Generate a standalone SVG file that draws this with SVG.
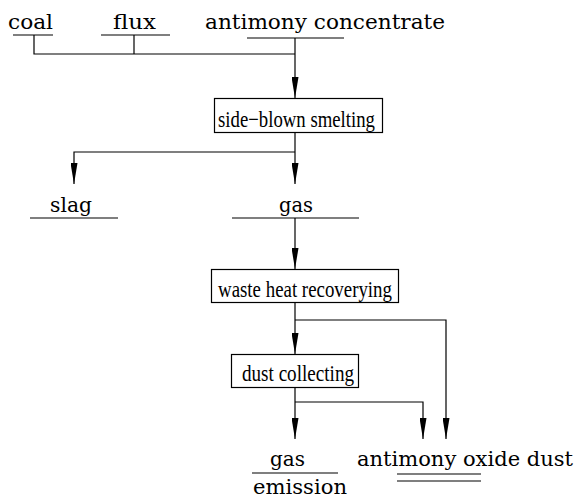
<svg xmlns="http://www.w3.org/2000/svg" width="578" height="498" viewBox="0 0 578 498">
  <style>
    .ln { stroke: #000; stroke-width: 1.2; fill: none; }
    .box { stroke: #000; stroke-width: 1.2; fill: #fff; }
    .lbl { font-family: "DejaVu Serif", "Liberation Serif", serif; font-size: 21px; fill: #000; }
    .btx { font-family: "Liberation Serif", "DejaVu Serif", serif; font-size: 23px; fill: #000; }
  </style>
  <defs>
    <marker id="arr" markerWidth="21" markerHeight="7" refX="21" refY="3.5" orient="auto" markerUnits="userSpaceOnUse" viewBox="0 0 21 7">
      <path d="M0,0 L21,3.5 L0,7 Z" fill="#000"/>
    </marker>
  </defs>

  <!-- raw material labels -->
  <g id="coal">
    <text class="lbl" x="8" y="29" textLength="45" lengthAdjust="spacingAndGlyphs">coal</text>
    <line class="ln" x1="13" y1="35" x2="53" y2="35"/>
  </g>
  <g id="flux">
    <text class="lbl" x="113" y="29" textLength="43" lengthAdjust="spacingAndGlyphs">flux</text>
    <line class="ln" x1="101" y1="35" x2="170" y2="35"/>
  </g>
  <g id="concentrate">
    <text class="lbl" x="205" y="29" textLength="240" lengthAdjust="spacingAndGlyphs">antimony concentrate</text>
    <line class="ln" x1="247" y1="38" x2="344" y2="38"/>
  </g>

  <!-- process boxes -->
  <g id="smelting">
    <rect class="box" x="214.5" y="98.5" width="168" height="34"/>
    <text class="btx" x="218" y="127" textLength="157" lengthAdjust="spacingAndGlyphs">side−blown smelting</text>
  </g>
  <g id="slag">
    <text class="lbl" x="50" y="212" textLength="42" lengthAdjust="spacingAndGlyphs">slag</text>
    <line class="ln" x1="30" y1="218" x2="118" y2="218"/>
  </g>
  <g id="gas1">
    <text class="lbl" x="279" y="212" textLength="34" lengthAdjust="spacingAndGlyphs">gas</text>
    <line class="ln" x1="232" y1="218" x2="359" y2="218"/>
  </g>
  <g id="wasteheat">
    <rect class="box" x="211.5" y="269.5" width="187" height="33"/>
    <text class="btx" x="218" y="297" textLength="174" lengthAdjust="spacingAndGlyphs">waste heat recoverying</text>
  </g>
  <g id="dust">
    <rect class="box" x="231.5" y="354.5" width="127" height="33"/>
    <text class="btx" x="242" y="381" textLength="112" lengthAdjust="spacingAndGlyphs">dust collecting</text>
  </g>
  <g id="emission">
    <text class="lbl" x="270" y="466" textLength="35" lengthAdjust="spacingAndGlyphs">gas</text>
    <line class="ln" x1="252" y1="473" x2="338" y2="473"/>
    <text class="lbl" x="253" y="494" textLength="94" lengthAdjust="spacingAndGlyphs">emission</text>
  </g>
  <g id="oxidedust">
    <text class="lbl" x="357" y="466" textLength="216" lengthAdjust="spacingAndGlyphs">antimony oxide dust</text>
    <line class="ln" x1="397" y1="474" x2="481" y2="474"/>
    <line class="ln" x1="397" y1="481" x2="481" y2="481"/>
  </g>

  <!-- connectors -->
  <g id="connectors">
    <polyline class="ln" points="34,35 34,54 295,54"/>
    <line class="ln" x1="134" y1="35" x2="134" y2="54"/>
    <line class="ln" x1="295" y1="38" x2="295" y2="98" marker-end="url(#arr)"/>
    <line class="ln" x1="295" y1="133" x2="295" y2="184" marker-end="url(#arr)"/>
    <polyline class="ln" points="295,152 74,152 74,184" marker-end="url(#arr)"/>
    <line class="ln" x1="295" y1="218" x2="295" y2="269" marker-end="url(#arr)"/>
    <line class="ln" x1="295" y1="303" x2="295" y2="354" marker-end="url(#arr)"/>
    <polyline class="ln" points="295,320 446,320 446,439" marker-end="url(#arr)"/>
    <line class="ln" x1="295" y1="388" x2="295" y2="439" marker-end="url(#arr)"/>
    <polyline class="ln" points="295,402 423,402 423,439" marker-end="url(#arr)"/>
  </g>
</svg>
